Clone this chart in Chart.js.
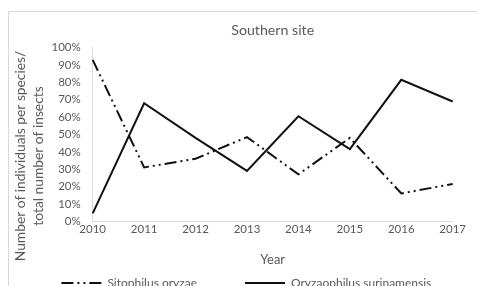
<!DOCTYPE html>
<html>
<head>
<meta charset="utf-8">
<script src="https://cdn.jsdelivr.net/npm/chart.js@4/dist/chart.umd.min.js"></script>
<style>
  html, body { margin: 0; padding: 0; overflow: hidden; background: #fff; }
  #moldura { position: absolute; left: 8px; top: 11px; width: 480px; height: 300px; border: 1px solid #d9d9d9; }
  #grafico { position: absolute; left: 0; top: 0; }
</style>
</head>
<body>
<div id="moldura"></div>
<canvas id="grafico" width="477" height="299"></canvas>
<script>
// dados
const anos = ['2010', '2011', '2012', '2013', '2014', '2015', '2016', '2017'];
const sitophilus = [93, 31, 36, 48.5, 27, 48, 16, 21.5];
const oryzaephilus = [4.5, 68, 48, 29, 60.5, 41.5, 81.5, 69];
const nomes = ['Sitophilus oryzae', 'Oryzaophilus surinamensis'];
const tituloY = ['Number of individuals per species/', 'total number of insects'];

const cinza = '#595959';
const fonte = 'Lato';

// titulo do eixo Y em duas linhas, um pouco abaixo do centro como no original
const tituloEixoY = {
    id: 'tituloEixoY',
    afterDraw(chart) {
        const ctx = chart.ctx;
        ctx.save();
        ctx.fillStyle = cinza;
        ctx.font = '13.8px ' + fonte;
        ctx.textAlign = 'center';
        ctx.textBaseline = 'middle';
        ctx.translate(21, 156);
        ctx.rotate(-Math.PI / 2);
        ctx.fillText(tituloY[0], 0, 0);
        ctx.fillText(tituloY[1], 0, 18);
        ctx.restore();
    }
};

new Chart(document.getElementById('grafico'), {
    type: 'line',
    data: {
        labels: anos,
        datasets: [{
            label: nomes[0],
            data: sitophilus,
            borderColor: '#111',
            borderWidth: 2,
            borderDash: [12, 4, 2, 4, 2, 4],
            pointRadius: 0,
            pointStyle: 'dash',
            tension: 0
        }, {
            label: nomes[1],
            data: oryzaephilus,
            borderColor: '#111',
            borderWidth: 2,
            pointRadius: 0,
            pointStyle: 'dash',
            tension: 0
        }]
    },
    options: {
        responsive: false,
        animation: false,
        devicePixelRatio: 1,
        layout: { padding: { left: 0, right: 24.3, top: 0, bottom: 0 } },
        plugins: {
            title: {
                display: true,
                text: 'Southern site',
                color: cinza,
                fullSize: false,
                font: { family: fonte, size: 14.2, weight: 'normal' },
                padding: { top: 22, bottom: 8.7 }
            },
            legend: {
                position: 'bottom',
                labels: {
                    usePointStyle: true,
                    pointStyleWidth: 80,
                    padding: 8,
                    color: cinza,
                    font: { family: fonte, size: 12 },
                    // o tracejado da serie tambem na legenda
                    generateLabels: chart => Chart.defaults.plugins.legend.labels.generateLabels(chart)
                        .map((item, i) => Object.assign(item, { lineDash: chart.data.datasets[i].borderDash || [] }))
                }
            },
            tooltip: { enabled: false }
        },
        scales: {
            x: {
                offset: false,
                grid: { display: false, drawTicks: false },
                border: { color: '#d9d9d9' },
                ticks: { color: cinza, font: { family: fonte, size: 11.5 }, padding: 1.5, maxRotation: 0, autoSkip: false },
                title: {
                    display: true,
                    text: 'Year',
                    color: cinza,
                    font: { family: fonte, size: 13 },
                    padding: { top: 14.2, bottom: 1.2 }
                }
            },
            y: {
                min: 0,
                max: 100,
                grid: { display: false, drawTicks: false },
                border: { color: '#d9d9d9' },
                ticks: {
                    stepSize: 10,
                    padding: 12,
                    color: cinza,
                    font: { family: fonte, size: 11.5 },
                    callback: v => v + '%'
                },
                afterFit: s => { s.width = 92.7; }
            }
        }
    },
    plugins: [tituloEixoY]
});
</script>
</body>
</html>
